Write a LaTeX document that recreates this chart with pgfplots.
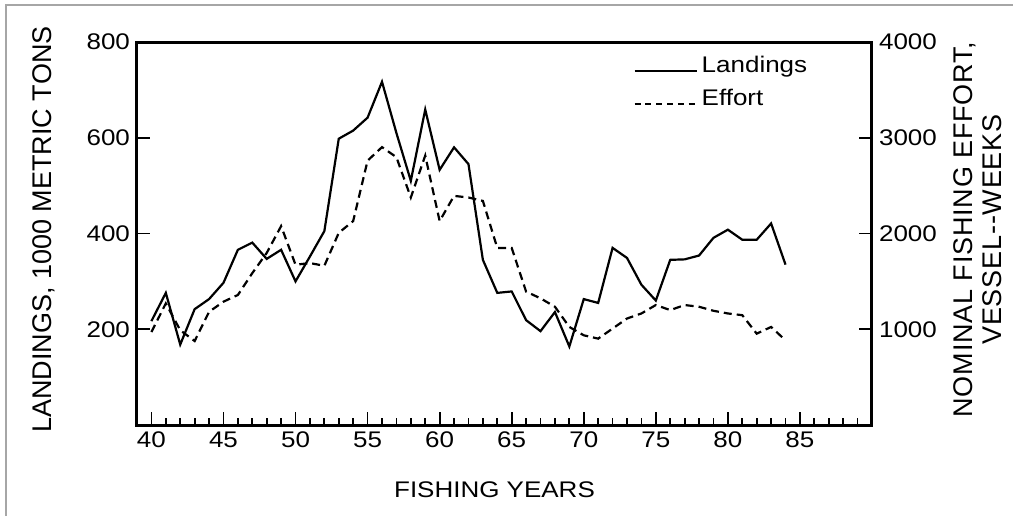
\documentclass[border=0pt]{standalone}
\usepackage{fontspec}
\setmainfont[FakeStretch=1.15]{Liberation Sans}
\newfontfamily\labelfont{Liberation Sans}
\newfontfamily\widelabelfont[LetterSpace=3]{Liberation Sans}
\usepackage{pgfplots}
\usepackage{pgfplotstable}
\pgfplotsset{compat=1.18}

% landings in 1000 t, effort in vessel-weeks
\pgfplotstableread{
year landings effort
40 217 971
41 276 1270
42 168 990
43 242 877
44 263 1182
45 297 1288
46 366 1358
47 381 1586
48 347 1797
49 366 2077
50 300 1674
51 352 1691
52 405 1663
53 598 2007
54 615 2130
55 642 2761
56 717 2902
57 610 2797
58 510 2376
59 659 2814
60 533 2130
61 580 2393
62 545 2376
63 345 2340
64 276 1849
65 279 1849
66 219 1393
67 196 1323
68 236 1235
69 164 1024
70 263 937
71 255 902
72 370 1007
73 349 1112
74 293 1165
75 260 1253
76 345 1200
77 346 1253
78 354 1235
79 391 1193
80 408 1165
81 387 1147
82 387 954
83 421 1024
84 335 884
}\fishdata

\begin{document}
\begin{tikzpicture}
\useasboundingbox (-68.5pt,-45.5pt) rectangle (438pt,212.5pt);
\pgfplotsset{every axis/.append style={
  at={(0,0)}, anchor=south west,
  scale only axis, width=367.5pt, height=191.5pt,
  xmin=39, xmax=90, ymin=0,
  axis line style={line width=1.5pt},
  tick style={line width=0.9pt, black},
  tick align=inside,
  major tick length=6.5pt, minor tick length=3.5pt,
  font=\fontsize{11.3}{13}\selectfont,
  /pgf/number format/assume math mode=true,
  /pgf/number format/1000 sep={},
  scaled ticks=false,
}}

\begin{axis}[
  ymax=800,
  ytick={200,400,600,800},
  xtick={40,45,...,85},
  minor xtick={41,...,89},
  xtick pos=lower, ytick pos=left,
  xlabel={FISHING YEARS},
  xlabel style={at={(axis description cs:0.5,0)}, anchor=center, yshift=-32.5pt, xshift=-5pt},
  ylabel={LANDINGS, 1000 METRIC TONS},
  ylabel style={at={(axis description cs:0,0.5)}, anchor=center, yshift=46.5pt, xshift=2pt,
    font=\labelfont\fontsize{13.5}{15}\selectfont},
  legend style={at={(rel axis cs:0.675,0.975)}, anchor=north west, draw=none, fill=none,
    inner sep=0pt, row sep=3pt, cells={anchor=west}},
  legend image code/.code={\draw[#1] (0pt,-2.5pt) -- (31pt,-2.5pt);},
]
\addplot[black, line width=1.1pt] table[x=year, y=landings] {\fishdata};
\addlegendentry{Landings}
\addlegendimage{black, line width=0.8pt, dash pattern=on 3pt off 2.4pt}
\addlegendentry{Effort}
\end{axis}

\begin{axis}[
  ymax=4000,
  ytick={1000,2000,3000,4000},
  axis y line*=right, axis x line=none,
  ylabel={NOMINAL FISHING EFFORT,\\VESSEL--WEEKS},
  ylabel style={at={(axis description cs:1,0.5)}, anchor=center, yshift=-53pt, xshift=2pt,
    align=center, font=\widelabelfont\fontsize{13.5}{14.5}\selectfont},
]
\addplot[black, line width=1.1pt, dash pattern=on 4pt off 2.5pt] table[x=year, y=effort] {\fishdata};
\end{axis}

\draw[gray!70, line width=0.7pt] (-65.5pt,-45.5pt) -- (-65.5pt,210pt) -- (438pt,210pt);
\end{tikzpicture}
\end{document}
